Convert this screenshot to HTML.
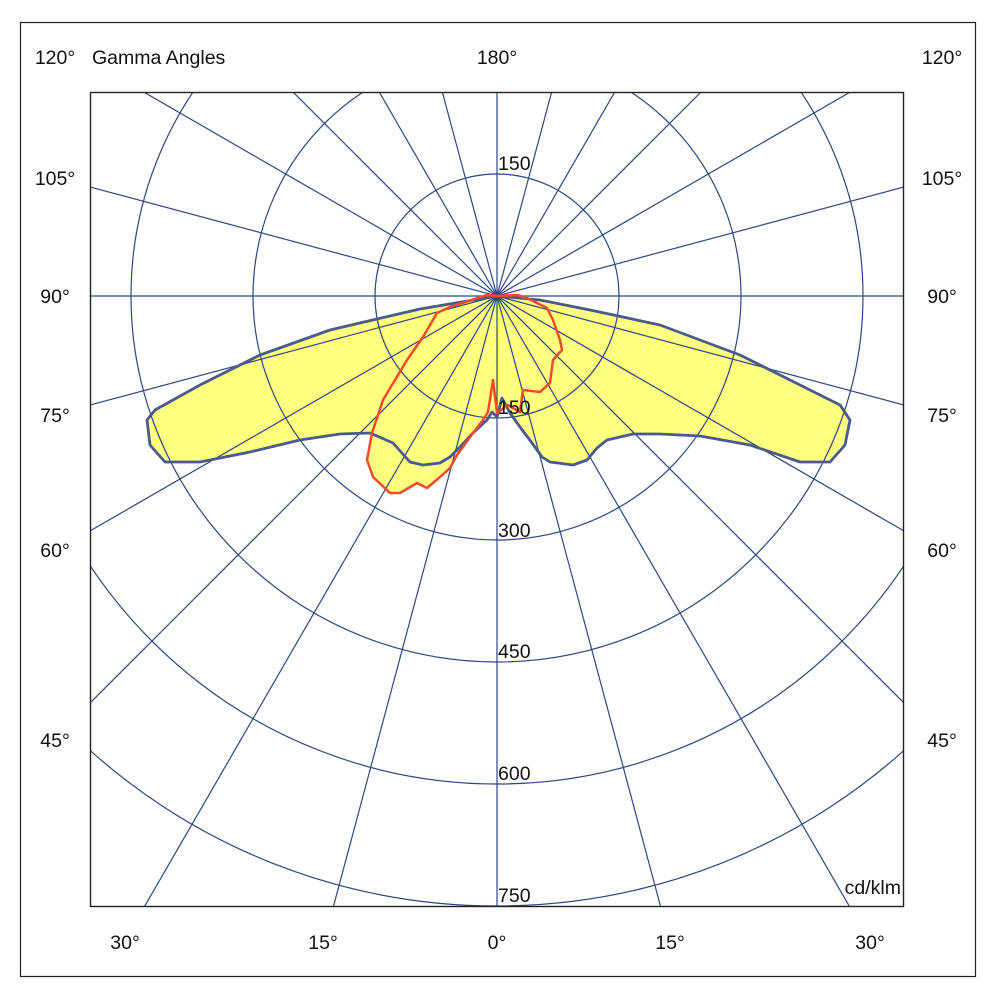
<!DOCTYPE html>
<html><head><meta charset="utf-8"><style>
html,body{margin:0;padding:0;background:#fff;overflow:hidden;width:994px;height:1000px;}
svg{display:block;font-family:"Liberation Sans",sans-serif;}
</style></head><body>
<svg width="994" height="1000" viewBox="0 0 994 1000" xmlns="http://www.w3.org/2000/svg">
<rect x="0" y="0" width="994" height="1000" fill="#fff"/>
<rect x="20.5" y="22.5" width="955" height="954" fill="none" stroke="#222" stroke-width="1.2"/>
<defs><clipPath id="c"><rect x="90" y="92" width="814" height="815"/></clipPath></defs>
<g clip-path="url(#c)">
<g fill="#ffff80" stroke="none">
<path d="M497,296 L540,300 590,310 660,325 740,355 800,385 840,405 850,420 845,445 830,462 800,462 750,445 700,436 660,434 633,434 607,440 597,448 587,460 573,465 550,462 542,457 532,443 520,427 510,413 502,398 497,417 492,412 487,420 473,433 460,447 450,457 440,463 423,465 410,462 393,443 370,433 340,434 300,440 250,452 200,462 165,462 150,445 147,420 155,410 200,385 260,355 330,330 420,309 Z"/>
<path d="M497,296 L487,295 450,307 437,313 423,337 407,360 383,400 372,433 367,460 373,477 390,493 400,493 417,483 427,488 440,477 450,468 457,455 473,433 483,420 488,412 493,380 497,413 508,405 520,412 523,390 540,392 550,383 553,360 562,350 560,340 553,320 547,308 527,298 517,295 Z"/>
</g>
<g fill="none" stroke="#2c4785" stroke-width="1.2">
<circle cx="497" cy="296" r="122"/>
<circle cx="497" cy="296" r="244"/>
<circle cx="497" cy="296" r="366"/>
<circle cx="497" cy="296" r="488"/>
<circle cx="497" cy="296" r="610"/>
<g transform="translate(497,296)">
<line x1="0" y1="-1200" x2="0" y2="1200"/>
<line x1="0" y1="-1200" x2="0" y2="1200" transform="rotate(15)"/>
<line x1="0" y1="-1200" x2="0" y2="1200" transform="rotate(30)"/>
<line x1="0" y1="-1200" x2="0" y2="1200" transform="rotate(45)"/>
<line x1="0" y1="-1200" x2="0" y2="1200" transform="rotate(60)"/>
<line x1="0" y1="-1200" x2="0" y2="1200" transform="rotate(75)"/>
<line x1="0" y1="-1200" x2="0" y2="1200" transform="rotate(90)"/>
<line x1="0" y1="-1200" x2="0" y2="1200" transform="rotate(105)"/>
<line x1="0" y1="-1200" x2="0" y2="1200" transform="rotate(120)"/>
<line x1="0" y1="-1200" x2="0" y2="1200" transform="rotate(135)"/>
<line x1="0" y1="-1200" x2="0" y2="1200" transform="rotate(150)"/>
<line x1="0" y1="-1200" x2="0" y2="1200" transform="rotate(165)"/>
</g>
</g>
<path fill="none" stroke="#4a5a8c" stroke-width="2.8" stroke-linejoin="round" d="M497,296 L540,300 590,310 660,325 740,355 800,385 840,405 850,420 845,445 830,462 800,462 750,445 700,436 660,434 633,434 607,440 597,448 587,460 573,465 550,462 542,457 532,443 520,427 510,413 502,398 497,417 492,412 487,420 473,433 460,447 450,457 440,463 423,465 410,462 393,443 370,433 340,434 300,440 250,452 200,462 165,462 150,445 147,420 155,410 200,385 260,355 330,330 420,309 Z"/>
<path fill="none" stroke="#f24a2e" stroke-width="2.5" stroke-linejoin="round" d="M497,296 L487,295 450,307 437,313 423,337 407,360 383,400 372,433 367,460 373,477 390,493 400,493 417,483 427,488 440,477 450,468 457,455 473,433 483,420 488,412 493,380 497,413 508,405 520,412 523,390 540,392 550,383 553,360 562,350 560,340 553,320 547,308 527,298 517,295 Z"/>
</g>
<rect x="90.5" y="92.5" width="813" height="814" fill="none" stroke="#222" stroke-width="1.4"/>
<g font-size="19.5" fill="#111">
<text x="498" y="170">150</text>
<text x="498" y="414">150</text>
<text x="498" y="537">300</text>
<text x="498" y="658">450</text>
<text x="498" y="780">600</text>
<text x="498" y="902">750</text>
<text x="901" y="894" text-anchor="end">cd/klm</text>
<text x="55" y="64" text-anchor="middle">120°</text>
<text x="92" y="64">Gamma Angles</text>
<text x="497" y="64" text-anchor="middle">180°</text>
<text x="942" y="64" text-anchor="middle">120°</text>
<text x="55" y="185" text-anchor="middle">105°</text>
<text x="942" y="185" text-anchor="middle">105°</text>
<text x="55" y="303" text-anchor="middle">90°</text>
<text x="942" y="303" text-anchor="middle">90°</text>
<text x="55" y="422" text-anchor="middle">75°</text>
<text x="942" y="422" text-anchor="middle">75°</text>
<text x="55" y="557" text-anchor="middle">60°</text>
<text x="942" y="557" text-anchor="middle">60°</text>
<text x="55" y="747" text-anchor="middle">45°</text>
<text x="942" y="747" text-anchor="middle">45°</text>
<text x="125" y="949" text-anchor="middle">30°</text>
<text x="323" y="949" text-anchor="middle">15°</text>
<text x="497" y="949" text-anchor="middle">0°</text>
<text x="670" y="949" text-anchor="middle">15°</text>
<text x="870" y="949" text-anchor="middle">30°</text>
</g>
</svg>
</body></html>
